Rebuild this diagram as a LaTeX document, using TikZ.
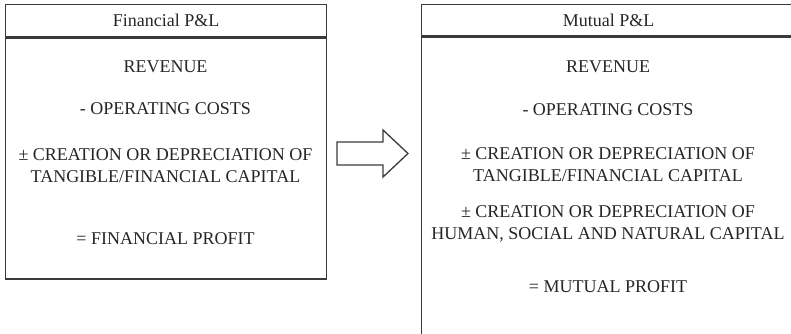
\documentclass[tikz,border=0pt]{standalone}
\usepackage{fontspec}
\setmainfont{Liberation Serif}
\usetikzlibrary{calc}
\definecolor{linegray}{HTML}{3A3A3A}
\definecolor{inkgray}{HTML}{262626}

\begin{document}
\begin{tikzpicture}[x=1pt,y=-1pt]
\tikzstyle{frame} = [draw=linegray, line width=1.3pt]
\tikzstyle{item} = [text=inkgray, align=center, inner sep=0pt, font=\fontsize{18}{22}\selectfont]
\useasboundingbox (0,0) rectangle (791,334);
\clip (0,0) rectangle (791,334);
% financial P&L
\node[frame, item, anchor=north west, minimum width=321pt, minimum height=32pt](fintitle) at (5,4) {Financial P\&L};
\node[frame, anchor=north, minimum width=321pt, minimum height=241pt](finbody) at (fintitle.south) {};
\node[item](finrev) at (165.5,67) {REVENUE};
\node[item](fincost) at (165.5,109) {- OPERATING COSTS};
\node[item](fincap) at (165.5,166) {± CREATION OR DEPRECIATION OF\\TANGIBLE/FINANCIAL CAPITAL};
\node[item](finprof) at (165.5,239) {= FINANCIAL PROFIT};
% mutual P&L, cut off on the right and below
\node[frame, item, anchor=north west, minimum width=374pt, minimum height=31pt](muttitle) at (421,4) {Mutual P\&L};
\node[frame, anchor=north, minimum width=374pt, minimum height=330pt](mutbody) at (muttitle.south) {};
\node[item](mutrev) at (608,67) {REVENUE};
\node[item](mutcost) at (608,110) {- OPERATING COSTS};
\node[item](mutcap) at (608,165) {± CREATION OR DEPRECIATION OF\\TANGIBLE/FINANCIAL CAPITAL};
\node[item](muthum) at (608,224) {± CREATION OR DEPRECIATION OF\\HUMAN, SOCIAL AND NATURAL CAPITAL};
\node[item](mutprof) at (608,287) {= MUTUAL PROFIT};
% block arrow between the two
\draw[frame, line join=miter] (337,142) -- (383,142) -- (383,130) -- (408,153.5) -- (383,177) -- (383,165) -- (337,165) -- cycle;
\end{tikzpicture}
\end{document}
